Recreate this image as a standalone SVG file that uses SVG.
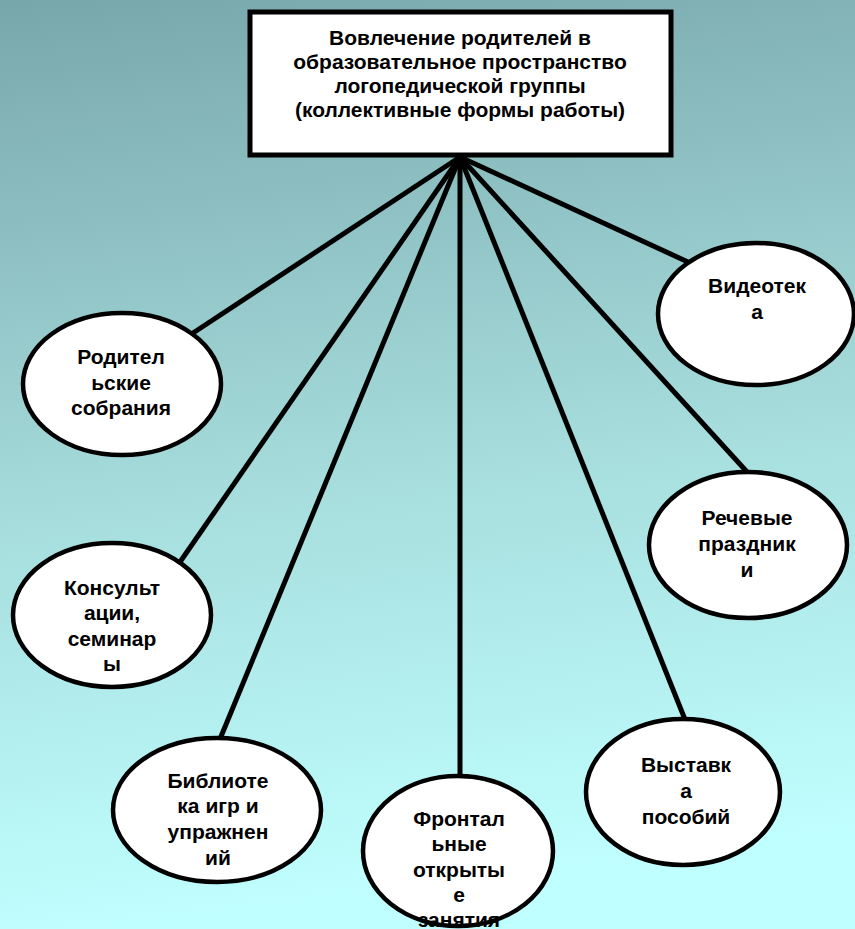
<svg xmlns="http://www.w3.org/2000/svg" width="855" height="929" viewBox="0 0 855 929">
<defs>
<linearGradient id="bg" x1="0" y1="0" x2="0.12" y2="1">
<stop offset="0" stop-color="#78a7ab"/>
<stop offset="0.55" stop-color="#a6dcdc"/>
<stop offset="1" stop-color="#c0ffff"/>
</linearGradient>
<style>
.box{fill:#ffffff;stroke:#000000;stroke-width:5}
.node{fill:#ffffff;stroke:#000000;stroke-width:4.5}
.edge{stroke:#000000;stroke-width:5;fill:none;stroke-linecap:butt}
.t{font-family:"Liberation Sans",Arial,sans-serif;font-weight:bold;font-size:21px;fill:#000000;text-anchor:middle}
.tt{font-family:"Liberation Sans",Arial,sans-serif;font-weight:bold;font-size:21px;fill:#000000;text-anchor:middle}
</style>
</defs>
<rect x="0" y="0" width="855" height="929" fill="url(#bg)"/>
<g id="connectors">
<line class="edge" x1="460" y1="157" x2="193" y2="333"/>
<line class="edge" x1="460" y1="157" x2="180" y2="562"/>
<line class="edge" x1="460" y1="157" x2="220" y2="739"/>
<line class="edge" x1="460" y1="157" x2="460" y2="777"/>
<line class="edge" x1="460" y1="157" x2="686" y2="722"/>
<line class="edge" x1="460" y1="157" x2="748" y2="473"/>
<line class="edge" x1="460" y1="157" x2="688" y2="262"/>
</g>
<g id="root">
<rect class="box" x="250" y="12" width="421" height="143"/>
<text class="tt" x="460" y="45">Вовлечение родителей в</text>
<text class="tt" x="460" y="69">образовательное пространство</text>
<text class="tt" x="460" y="93">логопедической группы</text>
<text class="tt" x="460" y="117">(коллективные формы работы)</text>
</g>
<g id="n-sobrania">
<ellipse class="node" cx="122" cy="384" rx="99" ry="71"/>
<text class="t" x="121" y="364">Родител</text>
<text class="t" x="121" y="390">ьские</text>
<text class="t" x="121" y="415">собрания</text>
</g>
<g id="n-konsultacii">
<ellipse class="node" cx="112" cy="615" rx="99" ry="72"/>
<text class="t" x="112" y="595">Консульт</text>
<text class="t" x="112" y="620">ации,</text>
<text class="t" x="112" y="646">семинар</text>
<text class="t" x="112" y="671">ы</text>
</g>
<g id="n-biblioteka">
<ellipse class="node" cx="217" cy="810" rx="104" ry="72"/>
<text class="t" x="218" y="788">Библиоте</text>
<text class="t" x="218" y="813">ка игр и</text>
<text class="t" x="218" y="839">упражнен</text>
<text class="t" x="218" y="865">ий</text>
</g>
<g id="n-frontalnye">
<ellipse class="node" cx="458" cy="851" rx="95" ry="75"/>
<text class="t" x="459" y="826">Фронтал</text>
<text class="t" x="459" y="851">ьные</text>
<text class="t" x="459" y="877">открыты</text>
<text class="t" x="459" y="902">е</text>
<text class="t" x="459" y="927">занятия</text>
</g>
<g id="n-videoteka">
<ellipse class="node" cx="756" cy="314" rx="98" ry="71"/>
<text class="t" x="757" y="293">Видеотек</text>
<text class="t" x="757" y="319">а</text>
</g>
<g id="n-prazdniki">
<ellipse class="node" cx="748" cy="545" rx="99" ry="73"/>
<text class="t" x="747" y="525">Речевые</text>
<text class="t" x="747" y="551">праздник</text>
<text class="t" x="747" y="577">и</text>
</g>
<g id="n-vystavka">
<ellipse class="node" cx="683" cy="792" rx="97" ry="73"/>
<text class="t" x="686" y="772">Выставк</text>
<text class="t" x="686" y="798">а</text>
<text class="t" x="686" y="824">пособий</text>
</g>
</svg>
